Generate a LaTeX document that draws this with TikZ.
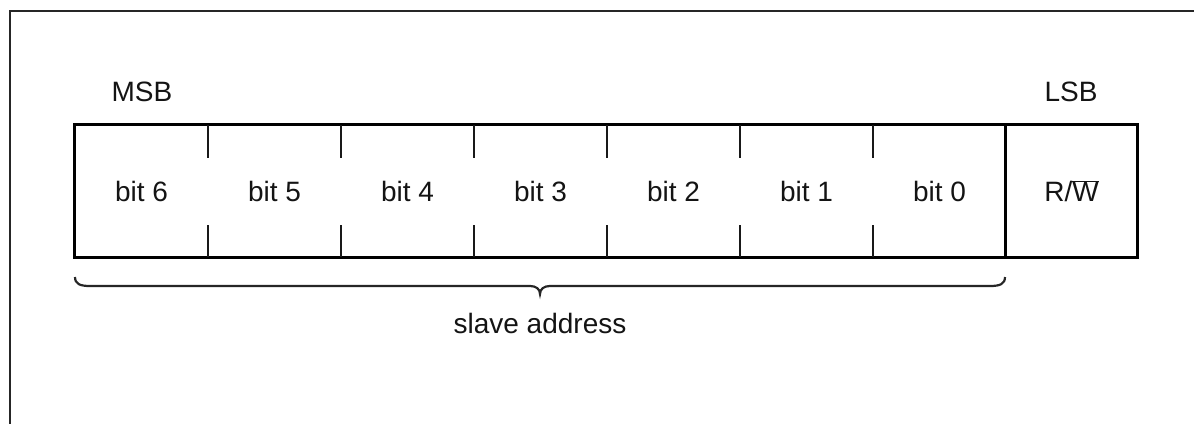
\documentclass[tikz,border=0pt]{standalone}
\usepackage{fontspec}
\setmainfont{Liberation Sans}
\begin{document}
\begin{tikzpicture}[x=1pt,y=-1pt,
  cell/.style={minimum width=133pt,minimum height=132pt,inner sep=0pt,font=\fontsize{28}{32}\selectfont,text=black!92},
  lbl/.style={inner sep=0pt,font=\fontsize{28}{32}\selectfont,text=black!92},
  boxline/.style={line width=3.2pt,black},
  tickline/.style={line width=2.2pt,black!90},
  thinline/.style={line width=2.2pt,black!85}]
\useasboundingbox (0,0) rectangle (1194,423);
% outer frame
\coordinate (fbl) at (10,425);
\coordinate (ftl) at (10,11);
\coordinate (ftr) at (1196,11);
\draw[thinline] (fbl) -- (ftl) -- (ftr);
% cells
\foreach \n/\t [count=\i from 0] in {b6/bit 6,b5/bit 5,b4/bit 4,b3/bit 3,b2/bit 2,b1/bit 1,b0/bit 0}{
  \node[cell] (\n) at ({141.5+133*\i},191) {\t};
}
\node[cell,minimum width=131pt] (rw) at (1071.5,191) {R/\ensuremath{\overline{\mbox{W}}}};
% outline
\draw[boxline] (b6.north west) rectangle (rw.south east);
\draw[boxline] (rw.north west) -- (rw.south west);
% ticks
\foreach \a in {b6,b5,b4,b3,b2,b1}{
  \draw[tickline] (\a.north east) -- ++(0,33);
  \draw[tickline] (\a.south east) -- ++(0,-32);
}
% labels
\node[lbl] (msb) at (142,92) {MSB};
\node[lbl] (lsb) at (1071,92) {LSB};
% brace
\coordinate (bl) at (75,277);
\coordinate (br) at (1005,277);
\draw[thinline] (bl) .. controls (75,284) and (80,286) .. (90,286) -- (530,286)
  .. controls (536,286) and (540,289) .. (540,294)
  .. controls (540,289) and (544,286) .. (550,286) -- (990,286)
  .. controls (1000,286) and (1005,284) .. (br);
\node[lbl] (sa) at (540,323) {slave address};
\end{tikzpicture}
\end{document}
